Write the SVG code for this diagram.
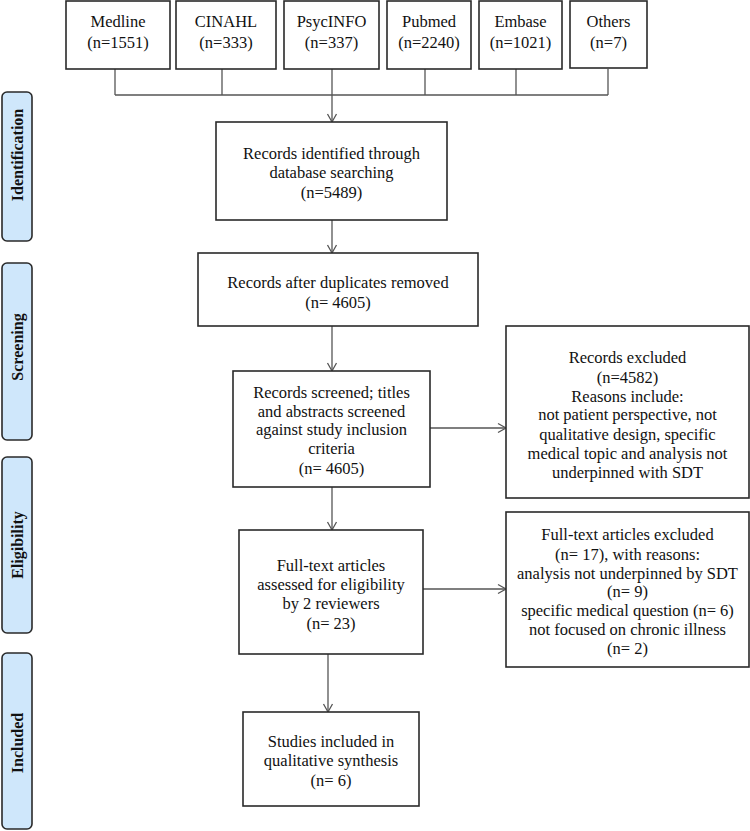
<svg xmlns="http://www.w3.org/2000/svg" width="750" height="831" viewBox="0 0 750 831">
<defs>
<style>
.box{fill:#fff;stroke:#2a2a2a;stroke-width:1.6}
.side{fill:#cfe7fb;stroke:#2a2a2a;stroke-width:1.6}
.t{font-family:"Liberation Serif","Times New Roman",serif;font-size:16.5px;fill:#111;text-anchor:middle}
.s{font-family:"Liberation Serif","Times New Roman",serif;font-size:16px;font-weight:bold;fill:#111;text-anchor:middle}
.c{fill:none;stroke:#555;stroke-width:1.3}
</style>
<marker id="ah" markerUnits="userSpaceOnUse" markerWidth="12" markerHeight="12" refX="10" refY="6" orient="auto" overflow="visible">
<path d="M2,1.5 L10,6 L2,10.5" fill="none" stroke="#555" stroke-width="1.3"/>
</marker>
</defs>
<rect width="750" height="831" fill="#fff"/>

<g id="side-identification"><rect class="side" x="2" y="92" width="30" height="149" rx="5"/><text class="s" transform="translate(23,155) rotate(-90)">Identification</text></g>
<g id="side-screening"><rect class="side" x="2" y="263" width="30" height="177" rx="5"/><text class="s" transform="translate(23,347) rotate(-90)">Screening</text></g>
<g id="side-eligibility"><rect class="side" x="2" y="457" width="30" height="176" rx="5"/><text class="s" transform="translate(23,545) rotate(-90)">Eligibility</text></g>
<g id="side-included"><rect class="side" x="2" y="653" width="30" height="176" rx="5"/><text class="s" transform="translate(23,743) rotate(-90)">Included</text></g>

<g id="connectors">
<line class="c" x1="115" y1="69" x2="115" y2="95"/>
<line class="c" x1="222" y1="69" x2="222" y2="95"/>
<line class="c" x1="425" y1="69" x2="425" y2="95"/>
<line class="c" x1="516" y1="69" x2="516" y2="95"/>
<line class="c" x1="608" y1="69" x2="608" y2="95"/>
<line class="c" x1="115" y1="95" x2="608" y2="95"/>
<line class="c" x1="332" y1="69" x2="332" y2="122" marker-end="url(#ah)"/>
<line class="c" x1="332" y1="220" x2="332" y2="253" marker-end="url(#ah)"/>
<line class="c" x1="332" y1="326" x2="332" y2="371" marker-end="url(#ah)"/>
<line class="c" x1="430" y1="428" x2="506" y2="428" marker-end="url(#ah)"/>
<line class="c" x1="332" y1="487" x2="332" y2="530" marker-end="url(#ah)"/>
<line class="c" x1="423" y1="589" x2="506" y2="589" marker-end="url(#ah)"/>
<line class="c" x1="328" y1="654" x2="328" y2="712" marker-end="url(#ah)"/>
</g>

<g id="medline"><rect class="box" x="66" y="1" width="104" height="68"/><text class="t" x="118" y="26.5">Medline</text><text class="t" x="118" y="47.5">(n=1551)</text></g>
<g id="cinahl"><rect class="box" x="176" y="1" width="100" height="68"/><text class="t" x="226" y="26.5">CINAHL</text><text class="t" x="226" y="47.5">(n=333)</text></g>
<g id="psycinfo"><rect class="box" x="284" y="1" width="95" height="68"/><text class="t" x="331.5" y="26.5">PsycINFO</text><text class="t" x="331.5" y="47.5">(n=337)</text></g>
<g id="pubmed"><rect class="box" x="387" y="1" width="84" height="68"/><text class="t" x="429" y="26.5">Pubmed</text><text class="t" x="429" y="47.5">(n=2240)</text></g>
<g id="embase"><rect class="box" x="479" y="1" width="83" height="68"/><text class="t" x="520.5" y="26.5">Embase</text><text class="t" x="520.5" y="47.5">(n=1021)</text></g>
<g id="others"><rect class="box" x="570" y="1" width="77" height="67"/><text class="t" x="608.5" y="26.5">Others</text><text class="t" x="608.5" y="47.5">(n=7)</text></g>

<g id="identified"><rect class="box" x="216" y="122" width="231" height="98"/>
<text class="t" x="331.5" y="158.5">Records identified through</text>
<text class="t" x="331.5" y="177.5">database searching</text>
<text class="t" x="331.5" y="197.5">(n=5489)</text></g>

<g id="duplicates"><rect class="box" x="198" y="253" width="280" height="73"/>
<text class="t" x="338" y="287.5">Records after duplicates removed</text>
<text class="t" x="338" y="307.5">(n= 4605)</text></g>

<g id="screened"><rect class="box" x="233" y="371" width="197" height="116"/>
<text class="t" x="331.5" y="397.5">Records screened; titles</text>
<text class="t" x="331.5" y="416.5">and abstracts screened</text>
<text class="t" x="331.5" y="434.5">against study inclusion</text>
<text class="t" x="331.5" y="453.5">criteria</text>
<text class="t" x="331.5" y="473.5">(n= 4605)</text></g>

<g id="excluded"><rect class="box" x="506" y="326" width="243" height="172"/>
<text class="t" x="627.5" y="362.5">Records excluded</text>
<text class="t" x="627.5" y="382.5">(n=4582)</text>
<text class="t" x="627.5" y="401.5">Reasons include:</text>
<text class="t" x="627.5" y="419.5">not patient perspective, not</text>
<text class="t" x="627.5" y="439.5">qualitative design, specific</text>
<text class="t" x="627.5" y="458.5">medical topic and analysis not</text>
<text class="t" x="627.5" y="477.5">underpinned with SDT</text></g>

<g id="fulltext"><rect class="box" x="239" y="530" width="184" height="124"/>
<text class="t" x="331" y="570.5">Full-text articles</text>
<text class="t" x="331" y="589.5">assessed for eligibility</text>
<text class="t" x="331" y="608.5">by 2 reviewers</text>
<text class="t" x="331" y="628.5">(n= 23)</text></g>

<g id="fulltext-excluded"><rect class="box" x="506" y="512" width="243" height="155"/>
<text class="t" x="627.5" y="539.5">Full-text articles excluded</text>
<text class="t" x="627.5" y="559.5">(n= 17), with reasons:</text>
<text class="t" x="627.5" y="578.5">analysis not underpinned by SDT</text>
<text class="t" x="627.5" y="596.5">(n= 9)</text>
<text class="t" x="627.5" y="615.5">specific medical question (n= 6)</text>
<text class="t" x="627.5" y="634.5">not focused on chronic illness</text>
<text class="t" x="627.5" y="653.5">(n= 2)</text></g>

<g id="included"><rect class="box" x="243" y="712" width="176" height="94"/>
<text class="t" x="331" y="746.5">Studies included in</text>
<text class="t" x="331" y="765.5">qualitative synthesis</text>
<text class="t" x="331" y="785.5">(n= 6)</text></g>
</svg>
